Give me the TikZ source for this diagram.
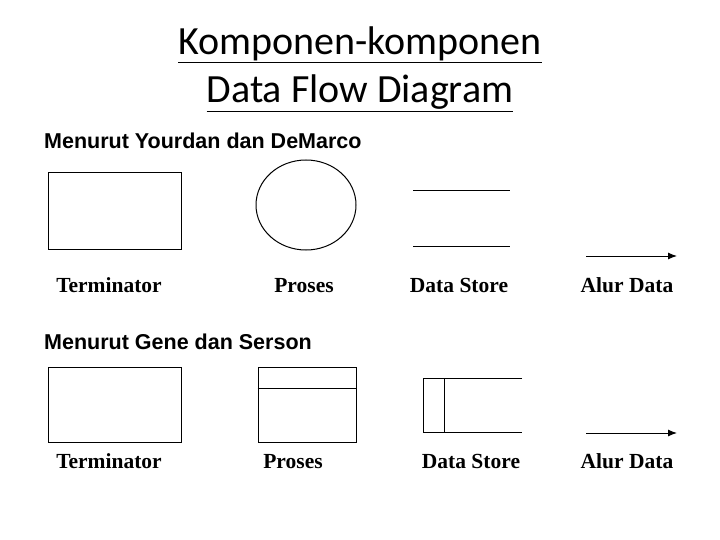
\documentclass[tikz,border=0pt]{standalone}
\usepackage{fontspec}
\setmainfont{Liberation Serif}
\newfontfamily\titlefont{Carlito}
\newfontfamily\headfont{Liberation Sans}
\usetikzlibrary{arrows.meta,shapes.geometric}
\begin{document}
\begin{tikzpicture}[x=1pt,y=-1pt,
  shp/.style={draw,line width=1pt},
  lbl/.style={font=\fontsize{21.5}{24}\selectfont\bfseries,inner sep=0pt,anchor=base},
  hd/.style={font=\headfont\fontsize{21.5}{24}\selectfont\bfseries,anchor=base west,inner sep=0pt},
  flow/.style={line width=1pt,-{Latex[length=9pt,width=7pt]}}]
\useasboundingbox[fill=white] (0,0) rectangle (720,540);
\node[font=\titlefont\fontsize{40}{48}\selectfont,align=center,inner sep=0pt] (title) at (360,69)
  {\underline{Komponen-komponen}\\\underline{Data Flow Diagram}};
\node[hd] (h1) at (44,149) {Menurut Yourdan dan DeMarco};
\node[shp,minimum width=133pt,minimum height=76pt,inner sep=0pt] (t1) at (114.5,211) {};
\node[shp,ellipse,minimum width=100pt,minimum height=90pt,inner sep=0pt] (p1) at (306,205) {};
\coordinate (d1a) at (413,191); \coordinate (d1b) at (510,191);
\coordinate (d1c) at (413,246); \coordinate (d1d) at (510,246);
\draw[line width=1pt] (d1a) -- (d1b) (d1c) -- (d1d);
\coordinate (a1s) at (586,256); \coordinate (a1e) at (677,256);
\draw[flow] (a1s) -- (a1e);
\node[lbl] (l1) at (109,292) {Terminator};
\node[lbl] (l2) at (304,292) {Proses};
\node[lbl] (l3) at (459,292) {Data Store};
\node[lbl] (l4) at (627,292) {Alur Data};
\node[hd] (h2) at (44,349) {Menurut Gene dan Serson};
\node[shp,minimum width=133pt,minimum height=75pt,inner sep=0pt] (t2) at (114.5,404.5) {};
\node[shp,minimum width=98pt,minimum height=75pt,inner sep=0pt] (p2) at (307,404.5) {};
\draw[line width=1pt] (p2.west |- 0,388) -- (p2.east |- 0,388);
\coordinate (s1) at (423,378); \coordinate (s2) at (522,378);
\coordinate (s3) at (423,432); \coordinate (s4) at (522,432);
\draw[line width=1pt] (s2) -- (s1) -- (s3) -- (s4);
\draw[line width=1pt] (444,378) -- (444,432);
\coordinate (a2s) at (586,433); \coordinate (a2e) at (677,433);
\draw[flow] (a2s) -- (a2e);
\node[lbl] (m1) at (109,468) {Terminator};
\node[lbl] (m2) at (293,468) {Proses};
\node[lbl] (m3) at (471,468) {Data Store};
\node[lbl] (m4) at (627,468) {Alur Data};
\end{tikzpicture}
\end{document}
